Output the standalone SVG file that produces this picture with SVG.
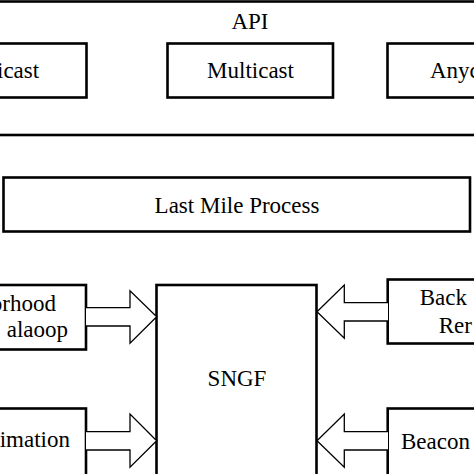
<svg xmlns="http://www.w3.org/2000/svg" width="474" height="474" viewBox="0 0 474 474">
<style>
.box{fill:#fff;stroke:#000;stroke-width:2.6}
.t{font-family:"Liberation Serif","Times New Roman",serif;font-size:23px;fill:#000}
.m{text-anchor:middle}
.e{text-anchor:end}
.arr{fill:#fff;stroke:#000;stroke-width:1.3;stroke-linejoin:miter}
</style>
<rect width="474" height="474" fill="#fff"/>
<g id="api">
<rect class="box" x="-10" y="1.5" width="494" height="133.5"/>
<text class="t m" x="250" y="28.5">API</text>
</g>
<g id="unicast">
<rect class="box" x="-79" y="43.5" width="165.5" height="54"/>
<text class="t m" x="4" y="78">Unicast</text>
</g>
<g id="multicast">
<rect class="box" x="167.5" y="43.5" width="165.5" height="54"/>
<text class="t m" x="250.5" y="78">Multicast</text>
</g>
<g id="anycast">
<rect class="box" x="387.5" y="43.5" width="165.5" height="54"/>
<text class="t" x="430" y="78">Anycast</text>
</g>
<g id="lastmile">
<rect class="box" x="3.5" y="177.5" width="466.5" height="54"/>
<text class="t m" x="237" y="212.5">Last Mile Process</text>
</g>
<g id="neighborhood">
<rect class="box" x="-79" y="285" width="165" height="64.5"/>
<text class="t e" x="56" y="311">Neighborhood</text>
<text class="t e" x="68" y="337">alaoop</text>
</g>
<g id="estimation">
<rect class="box" x="-79" y="408.5" width="165" height="80"/>
<text class="t e" x="70" y="447">Estimation</text>
</g>
<g id="sngf">
<rect class="box" x="156.5" y="285" width="160" height="203"/>
<text class="t m" x="237" y="386">SNGF</text>
</g>
<g id="back">
<rect class="box" x="387.7" y="279.5" width="165" height="64"/>
<text class="t" x="419.7" y="305">Back</text>
<text class="t" x="438.7" y="333">Rer</text>
</g>
<g id="beacon">
<rect class="box" x="387.7" y="408.5" width="165" height="80"/>
<text class="t" x="401" y="448.5">Beacon</text>
</g>
<g id="connectors">
<path class="arr" d="M86,307.7 H130 V290.7 L156.7,316.7 L130,343.3 V326 H86"/>
<path class="arr" d="M86,431.7 H130 V414 L156.7,440.7 L130,467.3 V450 H86"/>
<path class="arr" d="M388,302.7 H344.3 V285 L317,311.7 L344.3,338.3 V321 H388"/>
<path class="arr" d="M388,431.7 H344.3 V414 L317,440.7 L344.3,467.3 V450 H388"/>
</g>
</svg>
